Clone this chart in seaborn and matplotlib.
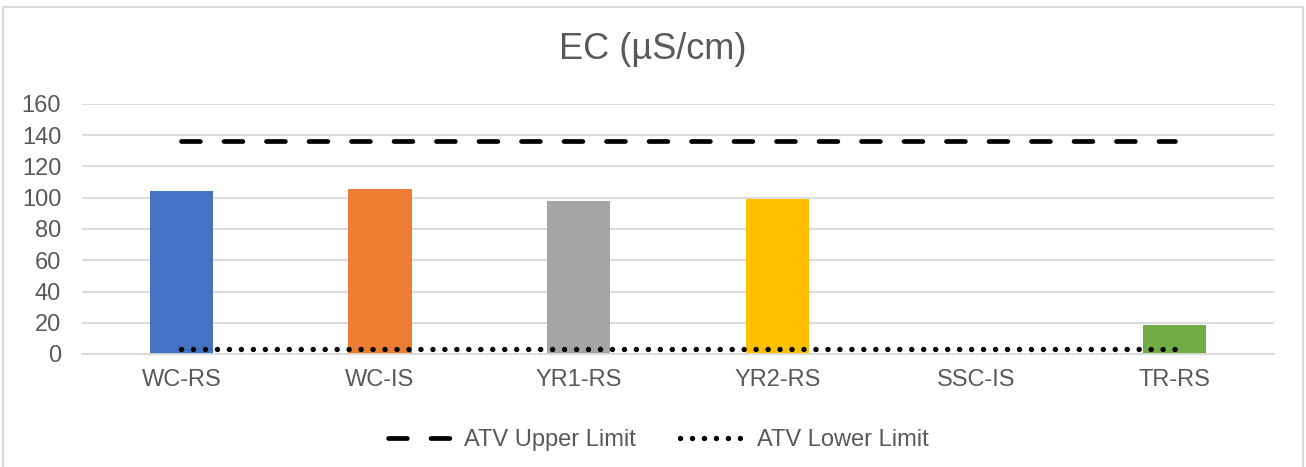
import numpy as np
import pandas as pd
import seaborn as sns
import matplotlib
matplotlib.use("Agg")
import matplotlib.pyplot as plt
from matplotlib.patches import Rectangle

# Sampling sites and measured electrical conductivity
sites = ["WC-RS", "WC-IS", "YR1-RS", "YR2-RS", "SSC-IS", "TR-RS"]
ec_values = [104.3, 105.6, 98.0, 99.2, np.nan, 18.6]
bar_colors = ["#4472C4", "#ED7D31", "#A5A5A5", "#FFC000", "#5B9BD5", "#70AD47"]

# Guideline trigger values
atv_upper = 136
atv_lower = 3

y_ticks = [0, 20, 40, 60, 80, 100, 120, 140, 160]
title = "EC (\u00b5S/cm)"

sns.set_theme(style="white")
plt.rcParams["font.family"] = ["Liberation Sans", "DejaVu Sans"]

text_color = "#595959"
grid_color = "#D9D9D9"

df = pd.DataFrame({"site": sites, "ec": ec_values})
limits = pd.DataFrame({
    "site": sites,
    "upper": [atv_upper] * len(sites),
    "lower": [atv_lower] * len(sites),
})

fig = plt.figure(figsize=(13.06, 4.67), dpi=100)
ax = fig.add_axes([82 / 1306, 1 - 354 / 467, (1274 - 82) / 1306, 250 / 467])

sns.barplot(data=df, x="site", y="ec", hue="site", palette=bar_colors,
            order=sites, hue_order=sites, dodge=False, width=0.32,
            legend=False, saturation=1, linewidth=0, edgecolor="none",
            ax=ax, zorder=2)

sns.lineplot(data=limits, x="site", y="upper", sort=False, ax=ax,
             color="black", linewidth=3.4, linestyle=(0, (4.0, 5.0)),
             dash_capstyle="round", label="ATV Upper Limit", zorder=3)
sns.lineplot(data=limits, x="site", y="lower", sort=False, ax=ax,
             color="black", linewidth=3.9, linestyle=(0, (0.01, 2.2)),
             dash_capstyle="round", label="ATV Lower Limit", zorder=3)

ax.set_xlim(-0.5, len(sites) - 0.5)
ax.set_ylim(0, 160)
ax.set_yticks(y_ticks)
ax.set_yticklabels([str(t) for t in y_ticks])
ax.set_xlabel("")
ax.set_ylabel("")

ax.yaxis.grid(True, color=grid_color, linewidth=1.3, zorder=0)
ax.xaxis.grid(False)
ax.set_axisbelow(True)
for side in ["left", "right", "top"]:
    ax.spines[side].set_visible(False)
ax.spines["bottom"].set_color(grid_color)
ax.spines["bottom"].set_linewidth(1.3)

ax.tick_params(axis="y", length=0, pad=15, labelsize=17, labelcolor=text_color)
ax.tick_params(axis="x", length=0, pad=11, labelsize=17, labelcolor=text_color)

handles, labels = ax.get_legend_handles_labels()
ax.get_legend().remove()
fig.legend(handles, labels, loc="center", bbox_to_anchor=(0.504, 1 - 440 / 467),
           ncol=2, frameon=False, fontsize=17, labelcolor=text_color,
           handlelength=2.7, handletextpad=0.55, columnspacing=1.86)

fig.text(0.5, 1 - 59 / 467, title, ha="center", va="baseline",
         fontsize=26, color=text_color)

fig.add_artist(Rectangle((3 / 1306, -0.02), 1300 / 1306, 460 / 467 + 0.02,
                         transform=fig.transFigure, fill=False,
                         edgecolor=grid_color, linewidth=1.5))

fig.savefig("out.png", dpi=100, facecolor="white")
